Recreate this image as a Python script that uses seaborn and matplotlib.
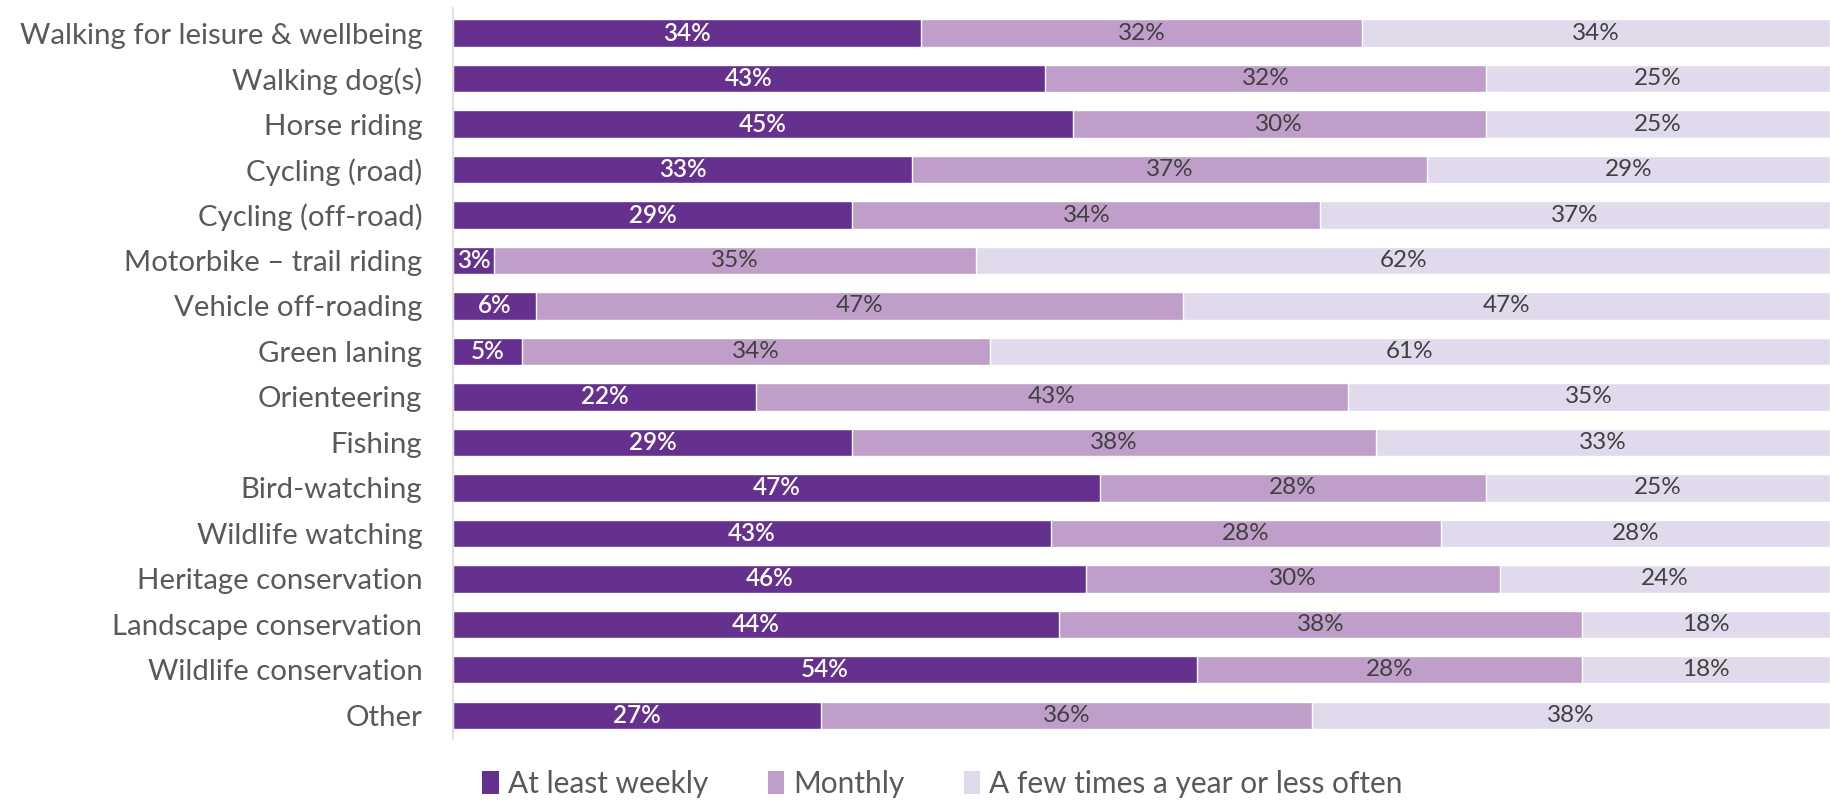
import numpy as np
import pandas as pd
import matplotlib
matplotlib.use("Agg")
import matplotlib.pyplot as plt
import seaborn as sns
from matplotlib.patches import Patch

categories = [
    "Walking for leisure & wellbeing", "Walking dog(s)", "Horse riding",
    "Cycling (road)", "Cycling (off-road)", "Motorbike \u2013 trail riding",
    "Vehicle off-roading", "Green laning", "Orienteering", "Fishing",
    "Bird-watching", "Wildlife watching", "Heritage conservation",
    "Landscape conservation", "Wildlife conservation", "Other",
]
weekly = [34, 43, 45, 33, 29, 3, 6, 5, 22, 29, 47, 43, 46, 44, 54, 27]
monthly = [32, 32, 30, 37, 34, 35, 47, 34, 43, 38, 28, 28, 30, 38, 28, 36]
yearly = [34, 25, 25, 29, 37, 62, 47, 61, 35, 33, 25, 28, 24, 18, 18, 38]

series_names = ["At least weekly", "Monthly", "A few times a year or less often"]
colors = ["#66308E", "#BF9FCA", "#E0DAEC"]
text_colors = ["white", "#404040", "#404040"]

# Build a table; shares rescaled so each bar spans the full width
df = pd.DataFrame({"category": categories, "weekly": weekly,
                   "monthly": monthly, "yearly": yearly})
total = df[["weekly", "monthly", "yearly"]].sum(axis=1)
df["end1"] = df["weekly"] / total * 100
df["end2"] = (df["weekly"] + df["monthly"]) / total * 100
df["end3"] = 100.0

sns.set_style("white")
plt.rcParams["font.family"] = ["Lato", "DejaVu Sans"]

fig, ax = plt.subplots(figsize=(18.3, 8.05), dpi=100)
fig.subplots_adjust(left=0.2475, right=1.0, top=0.99, bottom=0.082)

# draw widest first so shorter bars overlay
for col, color in zip(["end3", "end2", "end1"], colors[::-1]):
    sns.barplot(data=df, x=col, y="category", color=color, width=0.6,
                orient="h", ax=ax, saturation=1)

# segment labels
for i, row in df.iterrows():
    bounds = [0, row["end1"], row["end2"], row["end3"]]
    vals = [row["weekly"], row["monthly"], row["yearly"]]
    for k in range(3):
        ax.text((bounds[k] + bounds[k + 1]) / 2, i, f"{vals[k]}%", ha="center",
                va="center", fontsize=17.5, color=text_colors[k],
                fontweight="semibold" if k == 0 else "normal")

ax.set_xlim(0, 100)
ax.set_ylim(len(categories) - 0.48, -0.55)
ax.set_xlabel("")
ax.set_ylabel("")
ax.set_xticks([])
ax.tick_params(axis="y", length=0, labelsize=21.2, labelcolor="#595959", pad=22)
for side in ["top", "right", "bottom"]:
    ax.spines[side].set_visible(False)
ax.spines["left"].set_color("#D9D9D9")
ax.spines["left"].set_linewidth(1.2)

handles = [Patch(facecolor=c, edgecolor="none") for c in colors]
fig.legend(handles, series_names, loc="lower center", ncol=3,
           bbox_to_anchor=(0.515, -0.025), frameon=False, fontsize=21.5,
           handlelength=0.55, handleheight=0.8, handletextpad=0.3,
           columnspacing=2.0, labelcolor="#595959")

fig.savefig("out.png", dpi=100)
